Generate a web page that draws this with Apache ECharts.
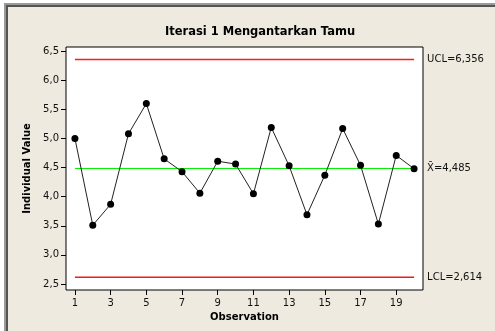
<!DOCTYPE html>
<html>
<head>
<meta charset="utf-8">
<script src="https://cdn.jsdelivr.net/npm/echarts@6/dist/echarts.min.js"></script>
<style>
html,body{margin:0;padding:0;background:#fff;}
#chart{width:495px;height:331px;}
</style>
</head>
<body>
<div id="chart"></div>
<script>
var titleText = 'Iterasi 1 Mengantarkan Tamu';
var observations = [1,2,3,4,5,6,7,8,9,10,11,12,13,14,15,16,17,18,19,20];
var values = [5.00,3.51,3.87,5.08,5.60,4.65,4.43,4.06,4.61,4.56,4.05,5.19,4.53,3.69,4.37,5.17,4.54,3.53,4.71,4.48];
var ucl = 6.356;
var center = 4.485;
var lcl = 2.614;
var yTicks = [2.5,3.0,3.5,4.0,4.5,5.0,5.5,6.0,6.5];
var xTicks = [1,3,5,7,9,11,13,15,17,19];

function fmt(v){ return v.toFixed(3).replace('.', ','); }

var chart = echarts.init(document.getElementById('chart'), null, {renderer:'canvas'});
var font = 'DejaVu Sans';
var first = observations[0], last = observations[observations.length-1];

function limitSeries(val, color, width, label){
  return {
    type:'line', data:[[first,val],[last,val]], symbol:'none', silent:true,
    color:color,
    itemStyle:{color:color},
    lineStyle:{color:color, width:width, opacity:1},
    emphasis:{disabled:true},
    z:2,
    endLabel:{show:true, formatter:label, distance:13, color:'#111', fontFamily:font, fontSize:10}
  };
}

chart.setOption({
  backgroundColor:'#fff',
  animation:false,
  graphic:[
    {type:'rect', z:-10, shape:{x:4,y:3,width:495,height:331}, style:{fill:'#9a9a9a'}},
    {type:'rect', z:-9, shape:{x:6,y:5,width:495,height:331}, style:{fill:'#555'}},
    {type:'rect', z:-8, shape:{x:8,y:7,width:495,height:331}, style:{fill:'#EEEAE0'}}
  ],
  title:{
    text:titleText, left:255, top:21, textAlign:'center',
    textStyle:{fontFamily:font, fontSize:11.5, fontWeight:'bold', color:'#000'}
  },
  grid:{left:66, top:47, right:72, bottom:41, show:true, backgroundColor:'#fff', borderColor:'#000', borderWidth:1, containLabel:false},
  xAxis:{
    type:'value', min:0.5, max:20.5,
    name:'Observation', nameLocation:'middle', nameGap:22,
    nameTextStyle:{fontFamily:font, fontSize:10, fontWeight:'bold', color:'#000'},
    axisLine:{show:false},
    axisTick:{show:true, length:5, lineStyle:{color:'#000'}, customValues:xTicks},
    axisLabel:{color:'#111', fontFamily:font, fontSize:10, margin:8, customValues:xTicks, formatter:function(v){return String(v);}},
    splitLine:{show:false}
  },
  yAxis:{
    type:'value', min:2.397, max:6.572,
    name:'Individual Value', nameLocation:'middle', nameGap:31, nameRotate:90,
    nameTextStyle:{fontFamily:font, fontSize:10, fontWeight:'bold', color:'#000'},
    axisLine:{show:false},
    axisTick:{show:true, length:5, lineStyle:{color:'#000'}, customValues:yTicks},
    axisLabel:{color:'#111', fontFamily:font, fontSize:10, margin:7, customValues:yTicks, formatter:function(v){return v.toFixed(1).replace('.', ',');}},
    splitLine:{show:false}
  },
  series:[
    limitSeries(ucl, '#ff1a1a', 1.5, 'UCL=' + fmt(ucl)),
    limitSeries(center, '#00ee00', 1, 'X\u0304=' + fmt(center)),
    limitSeries(lcl, '#f01a1a', 1.5, 'LCL=' + fmt(lcl)),
    {
      type:'line', z:5,
      data: observations.map(function(o,i){return [o, values[i]];}),
      symbol:'circle', symbolSize:7,
      itemStyle:{color:'#000'},
      lineStyle:{color:'#222', width:1},
      emphasis:{disabled:true}
    }
  ]
});
</script>
</body>
</html>
